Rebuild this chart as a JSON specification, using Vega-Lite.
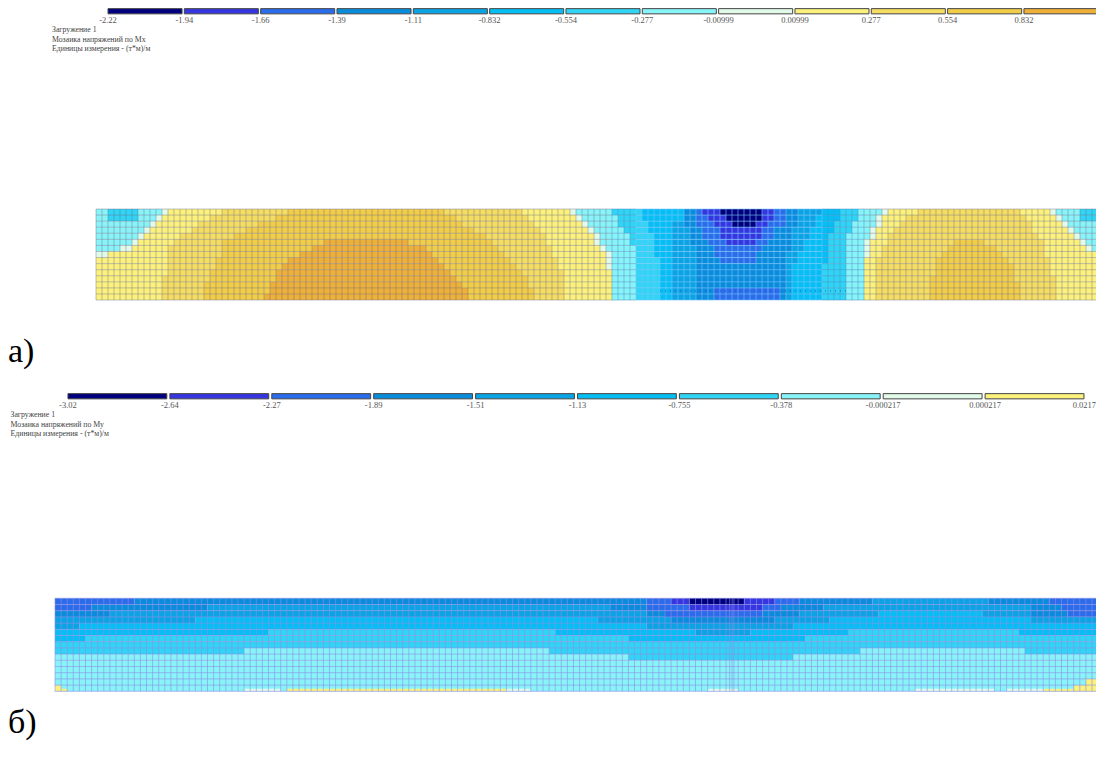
{"$schema":"https://vega.github.io/schema/vega-lite/v6.json","padding":0,"background":"white","spacing":0,"bounds":"flush","config":{"view":{"stroke":null},"axis":{"disable":true},"concat":{"spacing":0}},
"datasets":{
"cols":[0,1,2,3,4,5,6,7,8,9,10,11,12,13,14,15,16,17,18,19,20,21,22,23,24,25,26,27,28,29,30,31,32,33,34,35,36,37,38,39,40,41,42,43,44,45,46,47,48,49,50,51,52,53,54,55,56,57,58,59,60,61,62,63,64,65,66,67,68,69,70,71,72,73,74,75,76,77,78,79,80,81,82,83,84,85,86,87,88,89,90,91,92,93,94,95,96,97,98,99,100,101,102,103,104,105,106,107,108,109,110,111,112,113,114,115,116,117,118,119,120,121,122,123,124,125,126,127,128,129,130,131,132,133,134,135,136,137,138,139,140,141,142,143,144,145,146,147,148,149,150,151,152,153,154,155,156,157,158,159,160,161,162,163,164,165,166,167,168,169,170,171],
"rows":[0,1,2,3,4,5,6,7,8,9,10,11,12,13,14,15],
"heatA":[
{"r":0,"s":1,"c":0,"e":2,"k":7},{"r":0,"s":1,"c":2,"e":7,"k":6},{"r":0,"s":1,"c":7,"e":11,"k":7},{"r":0,"s":1,"c":11,"e":12,"k":8},{"r":0,"s":1,"c":12,"e":21,"k":9},{"r":0,"s":1,"c":21,"e":32,"k":10},{"r":0,"s":1,"c":32,"e":58,"k":11},{"r":0,"s":1,"c":58,"e":71,"k":10},{"r":0,"s":1,"c":71,"e":79,"k":9},{"r":0,"s":1,"c":79,"e":80,"k":8},{"r":0,"s":1,"c":80,"e":86,"k":7},{"r":0,"s":1,"c":86,"e":91,"k":6},{"r":0,"s":1,"c":91,"e":98,"k":5},{"r":0,"s":1,"c":98,"e":100,"k":3},{"r":0,"s":1,"c":100,"e":101,"k":2},{"r":0,"s":1,"c":101,"e":104,"k":1},{"r":0,"s":1,"c":104,"e":111,"k":0},{"r":0,"s":1,"c":111,"e":113,"k":1},{"r":0,"s":1,"c":113,"e":115,"k":2},{"r":0,"s":1,"c":115,"e":117,"k":3},{"r":0,"s":1,"c":117,"e":121,"k":4},{"r":0,"s":1,"c":121,"e":124,"k":5},{"r":0,"s":1,"c":124,"e":127,"k":6},{"r":0,"s":1,"c":127,"e":131,"k":7},{"r":0,"s":1,"c":131,"e":132,"k":8},{"r":0,"s":1,"c":132,"e":137,"k":9},{"r":0,"s":1,"c":137,"e":154,"k":10},{"r":0,"s":1,"c":154,"e":159,"k":9},{"r":0,"s":1,"c":159,"e":160,"k":8},{"r":0,"s":1,"c":160,"e":164,"k":7},{"r":0,"s":1,"c":164,"e":167,"k":6},
{"r":1,"s":2,"c":0,"e":2,"k":7},{"r":1,"s":2,"c":2,"e":7,"k":6},{"r":1,"s":2,"c":7,"e":10,"k":7},{"r":1,"s":2,"c":10,"e":11,"k":8},{"r":1,"s":2,"c":11,"e":19,"k":9},{"r":1,"s":2,"c":19,"e":30,"k":10},{"r":1,"s":2,"c":30,"e":60,"k":11},{"r":1,"s":2,"c":60,"e":72,"k":10},{"r":1,"s":2,"c":72,"e":80,"k":9},{"r":1,"s":2,"c":80,"e":81,"k":8},{"r":1,"s":2,"c":81,"e":87,"k":7},{"r":1,"s":2,"c":87,"e":91,"k":6},{"r":1,"s":2,"c":91,"e":98,"k":5},{"r":1,"s":2,"c":98,"e":100,"k":3},{"r":1,"s":2,"c":100,"e":102,"k":2},{"r":1,"s":2,"c":102,"e":105,"k":1},{"r":1,"s":2,"c":105,"e":111,"k":0},{"r":1,"s":2,"c":111,"e":113,"k":1},{"r":1,"s":2,"c":113,"e":115,"k":2},{"r":1,"s":2,"c":115,"e":117,"k":3},{"r":1,"s":2,"c":117,"e":120,"k":4},{"r":1,"s":2,"c":120,"e":124,"k":5},{"r":1,"s":2,"c":124,"e":127,"k":6},{"r":1,"s":2,"c":127,"e":130,"k":7},{"r":1,"s":2,"c":130,"e":131,"k":8},{"r":1,"s":2,"c":131,"e":135,"k":9},{"r":1,"s":2,"c":135,"e":155,"k":10},{"r":1,"s":2,"c":155,"e":160,"k":9},{"r":1,"s":2,"c":160,"e":161,"k":8},{"r":1,"s":2,"c":161,"e":164,"k":7},{"r":1,"s":2,"c":164,"e":167,"k":6},
{"r":2,"s":3,"c":0,"e":9,"k":7},{"r":2,"s":3,"c":9,"e":10,"k":8},{"r":2,"s":3,"c":10,"e":17,"k":9},{"r":2,"s":3,"c":17,"e":27,"k":10},{"r":2,"s":3,"c":27,"e":61,"k":11},{"r":2,"s":3,"c":61,"e":73,"k":10},{"r":2,"s":3,"c":73,"e":81,"k":9},{"r":2,"s":3,"c":81,"e":82,"k":8},{"r":2,"s":3,"c":82,"e":87,"k":7},{"r":2,"s":3,"c":87,"e":92,"k":6},{"r":2,"s":3,"c":92,"e":96,"k":5},{"r":2,"s":3,"c":96,"e":98,"k":4},{"r":2,"s":3,"c":98,"e":100,"k":3},{"r":2,"s":3,"c":100,"e":103,"k":2},{"r":2,"s":3,"c":103,"e":106,"k":1},{"r":2,"s":3,"c":106,"e":110,"k":0},{"r":2,"s":3,"c":110,"e":112,"k":1},{"r":2,"s":3,"c":112,"e":115,"k":2},{"r":2,"s":3,"c":115,"e":117,"k":3},{"r":2,"s":3,"c":117,"e":120,"k":4},{"r":2,"s":3,"c":120,"e":123,"k":5},{"r":2,"s":3,"c":123,"e":126,"k":6},{"r":2,"s":3,"c":126,"e":130,"k":7},{"r":2,"s":3,"c":130,"e":131,"k":8},{"r":2,"s":3,"c":131,"e":134,"k":9},{"r":2,"s":3,"c":134,"e":156,"k":10},{"r":2,"s":3,"c":156,"e":161,"k":9},{"r":2,"s":3,"c":161,"e":162,"k":8},{"r":2,"s":3,"c":162,"e":167,"k":7},
{"r":3,"s":4,"c":0,"e":8,"k":7},{"r":3,"s":4,"c":8,"e":9,"k":8},{"r":3,"s":4,"c":9,"e":16,"k":9},{"r":3,"s":4,"c":16,"e":25,"k":10},{"r":3,"s":4,"c":25,"e":63,"k":11},{"r":3,"s":4,"c":63,"e":74,"k":10},{"r":3,"s":4,"c":74,"e":82,"k":9},{"r":3,"s":4,"c":82,"e":83,"k":8},{"r":3,"s":4,"c":83,"e":88,"k":7},{"r":3,"s":4,"c":88,"e":92,"k":6},{"r":3,"s":4,"c":92,"e":96,"k":5},{"r":3,"s":4,"c":96,"e":99,"k":4},{"r":3,"s":4,"c":99,"e":101,"k":3},{"r":3,"s":4,"c":101,"e":104,"k":2},{"r":3,"s":4,"c":104,"e":111,"k":1},{"r":3,"s":4,"c":111,"e":113,"k":2},{"r":3,"s":4,"c":113,"e":116,"k":3},{"r":3,"s":4,"c":116,"e":119,"k":4},{"r":3,"s":4,"c":119,"e":123,"k":5},{"r":3,"s":4,"c":123,"e":126,"k":6},{"r":3,"s":4,"c":126,"e":129,"k":7},{"r":3,"s":4,"c":129,"e":130,"k":8},{"r":3,"s":4,"c":130,"e":133,"k":9},{"r":3,"s":4,"c":133,"e":156,"k":10},{"r":3,"s":4,"c":156,"e":162,"k":9},{"r":3,"s":4,"c":162,"e":163,"k":8},{"r":3,"s":4,"c":163,"e":167,"k":7},
{"r":4,"s":5,"c":0,"e":7,"k":7},{"r":4,"s":5,"c":7,"e":8,"k":8},{"r":4,"s":5,"c":8,"e":14,"k":9},{"r":4,"s":5,"c":14,"e":23,"k":10},{"r":4,"s":5,"c":23,"e":65,"k":11},{"r":4,"s":5,"c":65,"e":75,"k":10},{"r":4,"s":5,"c":75,"e":83,"k":9},{"r":4,"s":5,"c":83,"e":84,"k":8},{"r":4,"s":5,"c":84,"e":89,"k":7},{"r":4,"s":5,"c":89,"e":93,"k":6},{"r":4,"s":5,"c":93,"e":96,"k":5},{"r":4,"s":5,"c":96,"e":99,"k":4},{"r":4,"s":5,"c":99,"e":101,"k":3},{"r":4,"s":5,"c":101,"e":104,"k":2},{"r":4,"s":5,"c":104,"e":111,"k":1},{"r":4,"s":5,"c":111,"e":113,"k":2},{"r":4,"s":5,"c":113,"e":116,"k":3},{"r":4,"s":5,"c":116,"e":119,"k":4},{"r":4,"s":5,"c":119,"e":122,"k":5},{"r":4,"s":5,"c":122,"e":125,"k":6},{"r":4,"s":5,"c":125,"e":129,"k":7},{"r":4,"s":5,"c":129,"e":130,"k":8},{"r":4,"s":5,"c":130,"e":132,"k":9},{"r":4,"s":5,"c":132,"e":157,"k":10},{"r":4,"s":5,"c":157,"e":163,"k":9},{"r":4,"s":5,"c":163,"e":164,"k":8},{"r":4,"s":5,"c":164,"e":167,"k":7},
{"r":5,"s":6,"c":0,"e":6,"k":7},{"r":5,"s":6,"c":6,"e":7,"k":8},{"r":5,"s":6,"c":7,"e":13,"k":9},{"r":5,"s":6,"c":13,"e":21,"k":10},{"r":5,"s":6,"c":21,"e":38,"k":11},{"r":5,"s":6,"c":38,"e":52,"k":12},{"r":5,"s":6,"c":52,"e":66,"k":11},{"r":5,"s":6,"c":66,"e":75,"k":10},{"r":5,"s":6,"c":75,"e":83,"k":9},{"r":5,"s":6,"c":83,"e":84,"k":8},{"r":5,"s":6,"c":84,"e":89,"k":7},{"r":5,"s":6,"c":89,"e":93,"k":6},{"r":5,"s":6,"c":93,"e":96,"k":5},{"r":5,"s":6,"c":96,"e":99,"k":4},{"r":5,"s":6,"c":99,"e":102,"k":3},{"r":5,"s":6,"c":102,"e":105,"k":2},{"r":5,"s":6,"c":105,"e":110,"k":1},{"r":5,"s":6,"c":110,"e":112,"k":2},{"r":5,"s":6,"c":112,"e":116,"k":3},{"r":5,"s":6,"c":116,"e":118,"k":4},{"r":5,"s":6,"c":118,"e":122,"k":5},{"r":5,"s":6,"c":122,"e":125,"k":6},{"r":5,"s":6,"c":125,"e":128,"k":7},{"r":5,"s":6,"c":128,"e":129,"k":8},{"r":5,"s":6,"c":129,"e":132,"k":9},{"r":5,"s":6,"c":132,"e":143,"k":10},{"r":5,"s":6,"c":143,"e":148,"k":11},{"r":5,"s":6,"c":148,"e":158,"k":10},{"r":5,"s":6,"c":158,"e":164,"k":9},{"r":5,"s":6,"c":164,"e":165,"k":8},{"r":5,"s":6,"c":165,"e":167,"k":7},
{"r":6,"s":7,"c":0,"e":4,"k":7},{"r":6,"s":7,"c":4,"e":6,"k":8},{"r":6,"s":7,"c":6,"e":12,"k":9},{"r":6,"s":7,"c":12,"e":21,"k":10},{"r":6,"s":7,"c":21,"e":36,"k":11},{"r":6,"s":7,"c":36,"e":55,"k":12},{"r":6,"s":7,"c":55,"e":67,"k":11},{"r":6,"s":7,"c":67,"e":76,"k":10},{"r":6,"s":7,"c":76,"e":84,"k":9},{"r":6,"s":7,"c":84,"e":85,"k":8},{"r":6,"s":7,"c":85,"e":90,"k":7},{"r":6,"s":7,"c":90,"e":93,"k":6},{"r":6,"s":7,"c":93,"e":96,"k":5},{"r":6,"s":7,"c":96,"e":100,"k":4},{"r":6,"s":7,"c":100,"e":103,"k":3},{"r":6,"s":7,"c":103,"e":111,"k":2},{"r":6,"s":7,"c":111,"e":116,"k":3},{"r":6,"s":7,"c":116,"e":118,"k":4},{"r":6,"s":7,"c":118,"e":122,"k":5},{"r":6,"s":7,"c":122,"e":125,"k":6},{"r":6,"s":7,"c":125,"e":128,"k":7},{"r":6,"s":7,"c":128,"e":129,"k":8},{"r":6,"s":7,"c":129,"e":131,"k":9},{"r":6,"s":7,"c":131,"e":142,"k":10},{"r":6,"s":7,"c":142,"e":150,"k":11},{"r":6,"s":7,"c":150,"e":158,"k":10},{"r":6,"s":7,"c":158,"e":165,"k":9},{"r":6,"s":7,"c":165,"e":166,"k":8},{"r":6,"s":7,"c":166,"e":167,"k":7},
{"r":7,"s":8,"c":0,"e":2,"k":8},{"r":7,"s":8,"c":2,"e":12,"k":9},{"r":7,"s":8,"c":12,"e":21,"k":10},{"r":7,"s":8,"c":21,"e":34,"k":11},{"r":7,"s":8,"c":34,"e":56,"k":12},{"r":7,"s":8,"c":56,"e":68,"k":11},{"r":7,"s":8,"c":68,"e":76,"k":10},{"r":7,"s":8,"c":76,"e":85,"k":9},{"r":7,"s":8,"c":85,"e":86,"k":8},{"r":7,"s":8,"c":86,"e":90,"k":7},{"r":7,"s":8,"c":90,"e":93,"k":6},{"r":7,"s":8,"c":93,"e":96,"k":5},{"r":7,"s":8,"c":96,"e":100,"k":4},{"r":7,"s":8,"c":100,"e":103,"k":3},{"r":7,"s":8,"c":103,"e":110,"k":2},{"r":7,"s":8,"c":110,"e":115,"k":3},{"r":7,"s":8,"c":115,"e":117,"k":4},{"r":7,"s":8,"c":117,"e":122,"k":5},{"r":7,"s":8,"c":122,"e":125,"k":6},{"r":7,"s":8,"c":125,"e":128,"k":7},{"r":7,"s":8,"c":128,"e":129,"k":8},{"r":7,"s":8,"c":129,"e":131,"k":9},{"r":7,"s":8,"c":131,"e":141,"k":10},{"r":7,"s":8,"c":141,"e":151,"k":11},{"r":7,"s":8,"c":151,"e":158,"k":10},{"r":7,"s":8,"c":158,"e":167,"k":9},
{"r":8,"s":9,"c":0,"e":12,"k":9},{"r":8,"s":9,"c":12,"e":20,"k":10},{"r":8,"s":9,"c":20,"e":32,"k":11},{"r":8,"s":9,"c":32,"e":57,"k":12},{"r":8,"s":9,"c":57,"e":69,"k":11},{"r":8,"s":9,"c":69,"e":77,"k":10},{"r":8,"s":9,"c":77,"e":85,"k":9},{"r":8,"s":9,"c":85,"e":86,"k":8},{"r":8,"s":9,"c":86,"e":90,"k":7},{"r":8,"s":9,"c":90,"e":94,"k":6},{"r":8,"s":9,"c":94,"e":96,"k":5},{"r":8,"s":9,"c":96,"e":100,"k":4},{"r":8,"s":9,"c":100,"e":104,"k":3},{"r":8,"s":9,"c":104,"e":110,"k":2},{"r":8,"s":9,"c":110,"e":115,"k":3},{"r":8,"s":9,"c":115,"e":117,"k":4},{"r":8,"s":9,"c":117,"e":122,"k":5},{"r":8,"s":9,"c":122,"e":125,"k":6},{"r":8,"s":9,"c":125,"e":128,"k":7},{"r":8,"s":9,"c":128,"e":130,"k":9},{"r":8,"s":9,"c":130,"e":140,"k":10},{"r":8,"s":9,"c":140,"e":152,"k":11},{"r":8,"s":9,"c":152,"e":159,"k":10},{"r":8,"s":9,"c":159,"e":167,"k":9},
{"r":9,"s":10,"c":0,"e":12,"k":9},{"r":9,"s":10,"c":12,"e":20,"k":10},{"r":9,"s":10,"c":20,"e":31,"k":11},{"r":9,"s":10,"c":31,"e":58,"k":12},{"r":9,"s":10,"c":58,"e":70,"k":11},{"r":9,"s":10,"c":70,"e":77,"k":10},{"r":9,"s":10,"c":77,"e":85,"k":9},{"r":9,"s":10,"c":85,"e":86,"k":8},{"r":9,"s":10,"c":86,"e":90,"k":7},
{"r":10,"s":11,"c":0,"e":12,"k":9},{"r":10,"s":11,"c":12,"e":19,"k":10},{"r":10,"s":11,"c":19,"e":30,"k":11},{"r":10,"s":11,"c":30,"e":59,"k":12},{"r":10,"s":11,"c":59,"e":71,"k":11},{"r":10,"s":11,"c":71,"e":78,"k":10},{"r":10,"s":11,"c":78,"e":86,"k":9},{"r":10,"s":11,"c":86,"e":90,"k":7},
{"r":11,"s":12,"c":0,"e":11,"k":9},{"r":11,"s":12,"c":11,"e":19,"k":10},{"r":11,"s":12,"c":19,"e":30,"k":11},{"r":11,"s":12,"c":30,"e":60,"k":12},{"r":11,"s":12,"c":60,"e":72,"k":11},{"r":11,"s":12,"c":72,"e":78,"k":10},{"r":11,"s":12,"c":78,"e":86,"k":9},{"r":11,"s":12,"c":86,"e":90,"k":7},
{"r":12,"s":13,"c":0,"e":11,"k":9},{"r":12,"s":13,"c":11,"e":18,"k":10},{"r":12,"s":13,"c":18,"e":29,"k":11},{"r":12,"s":13,"c":29,"e":61,"k":12},{"r":12,"s":13,"c":61,"e":72,"k":11},{"r":12,"s":13,"c":72,"e":78,"k":10},{"r":12,"s":13,"c":78,"e":86,"k":9},{"r":12,"s":13,"c":86,"e":90,"k":7},
{"r":13,"s":14,"c":0,"e":11,"k":9},{"r":13,"s":14,"c":11,"e":18,"k":10},{"r":13,"s":14,"c":18,"e":29,"k":11},{"r":13,"s":14,"c":29,"e":62,"k":12},{"r":13,"s":14,"c":62,"e":73,"k":11},{"r":13,"s":14,"c":73,"e":78,"k":10},{"r":13,"s":14,"c":78,"e":86,"k":9},{"r":13,"s":14,"c":86,"e":90,"k":7},
{"r":14,"s":15,"c":0,"e":11,"k":9},{"r":14,"s":15,"c":11,"e":18,"k":10},{"r":14,"s":15,"c":18,"e":28,"k":11},{"r":14,"s":15,"c":28,"e":62,"k":12},{"r":14,"s":15,"c":62,"e":73,"k":11},{"r":14,"s":15,"c":73,"e":78,"k":10},{"r":14,"s":15,"c":78,"e":86,"k":9},{"r":14,"s":15,"c":86,"e":90,"k":7},
{"r":9,"s":13,"c":90,"e":94,"k":6},{"r":9,"s":13,"c":94,"e":96,"k":5},{"r":9,"s":13,"c":96,"e":100,"k":4},{"r":9,"s":13,"c":100,"e":115,"k":3},{"r":9,"s":13,"c":115,"e":116,"k":4},{"r":9,"s":13,"c":116,"e":121,"k":5},{"r":9,"s":13,"c":121,"e":125,"k":6},{"r":9,"s":13,"c":125,"e":128,"k":7},
{"r":13,"s":15,"c":90,"e":94,"k":6},{"r":13,"s":15,"c":94,"e":96,"k":5},{"r":13,"s":15,"c":96,"e":100,"k":4},{"r":13,"s":15,"c":100,"e":103,"k":3},{"r":13,"s":15,"c":103,"e":114,"k":2},{"r":13,"s":15,"c":114,"e":115,"k":3},{"r":13,"s":15,"c":115,"e":116,"k":4},{"r":13,"s":15,"c":116,"e":121,"k":5},{"r":13,"s":15,"c":121,"e":125,"k":6},{"r":13,"s":15,"c":125,"e":128,"k":7},
{"r":9,"s":11,"c":128,"e":130,"k":9},{"r":9,"s":11,"c":130,"e":140,"k":10},{"r":9,"s":11,"c":140,"e":153,"k":11},{"r":9,"s":11,"c":153,"e":159,"k":10},{"r":9,"s":11,"c":159,"e":167,"k":9},
{"r":11,"s":12,"c":128,"e":130,"k":9},{"r":11,"s":12,"c":130,"e":139,"k":10},{"r":11,"s":12,"c":139,"e":153,"k":11},{"r":11,"s":12,"c":153,"e":160,"k":10},{"r":11,"s":12,"c":160,"e":167,"k":9},
{"r":12,"s":15,"c":128,"e":130,"k":9},{"r":12,"s":15,"c":130,"e":139,"k":10},{"r":12,"s":15,"c":139,"e":154,"k":11},{"r":12,"s":15,"c":154,"e":160,"k":10},{"r":12,"s":15,"c":160,"e":167,"k":9}
],
"heatB":[
{"r":0,"s":1,"c":0,"e":13,"k":2},{"r":0,"s":1,"c":13,"e":97,"k":3},{"r":0,"s":1,"c":97,"e":101,"k":2},{"r":0,"s":1,"c":101,"e":104,"k":1},{"r":0,"s":1,"c":104,"e":113,"k":0},{"r":0,"s":1,"c":113,"e":118,"k":1},{"r":0,"s":1,"c":118,"e":122,"k":2},{"r":0,"s":1,"c":122,"e":134,"k":3},{"r":0,"s":1,"c":134,"e":153,"k":4},{"r":0,"s":1,"c":153,"e":163,"k":3},{"r":0,"s":1,"c":163,"e":171,"k":2},
{"r":1,"s":2,"c":0,"e":6,"k":2},{"r":1,"s":2,"c":6,"e":25,"k":3},{"r":1,"s":2,"c":25,"e":91,"k":4},{"r":1,"s":2,"c":91,"e":97,"k":3},{"r":1,"s":2,"c":97,"e":104,"k":2},{"r":1,"s":2,"c":104,"e":116,"k":1},{"r":1,"s":2,"c":116,"e":119,"k":2},{"r":1,"s":2,"c":119,"e":126,"k":3},{"r":1,"s":2,"c":126,"e":160,"k":4},{"r":1,"s":2,"c":160,"e":165,"k":3},{"r":1,"s":2,"c":165,"e":171,"k":2},
{"r":2,"s":3,"c":0,"e":9,"k":3},{"r":2,"s":3,"c":9,"e":97,"k":4},{"r":2,"s":3,"c":97,"e":100,"k":3},{"r":2,"s":3,"c":100,"e":116,"k":2},{"r":2,"s":3,"c":116,"e":122,"k":3},{"r":2,"s":3,"c":122,"e":135,"k":4},{"r":2,"s":3,"c":135,"e":152,"k":5},{"r":2,"s":3,"c":152,"e":160,"k":4},{"r":2,"s":3,"c":160,"e":166,"k":3},{"r":2,"s":3,"c":166,"e":171,"k":2},
{"r":3,"s":4,"c":0,"e":23,"k":4},{"r":3,"s":4,"c":23,"e":89,"k":5},{"r":3,"s":4,"c":89,"e":101,"k":4},{"r":3,"s":4,"c":101,"e":118,"k":3},{"r":3,"s":4,"c":118,"e":127,"k":4},{"r":3,"s":4,"c":127,"e":160,"k":5},{"r":3,"s":4,"c":160,"e":171,"k":4},
{"r":4,"s":5,"c":0,"e":4,"k":4},{"r":4,"s":5,"c":4,"e":97,"k":5},{"r":4,"s":5,"c":97,"e":121,"k":4},{"r":4,"s":5,"c":121,"e":171,"k":5},
{"r":5,"s":6,"c":0,"e":35,"k":5},{"r":5,"s":6,"c":35,"e":82,"k":6},{"r":5,"s":6,"c":82,"e":105,"k":5},{"r":5,"s":6,"c":105,"e":114,"k":4},{"r":5,"s":6,"c":114,"e":130,"k":5},{"r":5,"s":6,"c":130,"e":158,"k":6},{"r":5,"s":6,"c":158,"e":171,"k":5},
{"r":6,"s":7,"c":0,"e":5,"k":5},{"r":6,"s":7,"c":5,"e":94,"k":6},{"r":6,"s":7,"c":94,"e":123,"k":5},{"r":6,"s":7,"c":123,"e":171,"k":6},
{"r":7,"s":8,"c":0,"e":171,"k":6},
{"r":8,"s":9,"c":0,"e":31,"k":6},{"r":8,"s":9,"c":31,"e":81,"k":7},{"r":8,"s":9,"c":81,"e":132,"k":6},{"r":8,"s":9,"c":132,"e":159,"k":7},{"r":8,"s":9,"c":159,"e":171,"k":6},
{"r":9,"s":10,"c":0,"e":94,"k":7},{"r":9,"s":10,"c":94,"e":121,"k":6},{"r":9,"s":10,"c":121,"e":171,"k":7},
{"r":10,"s":15,"c":0,"e":171,"k":7},
{"r":14.6,"s":15,"c":31,"e":37,"k":8},{"r":14.6,"s":15,"c":38,"e":74,"k":9},{"r":14.6,"s":15,"c":74,"e":78,"k":8},{"r":14.6,"s":15,"c":107,"e":112,"k":8},{"r":14.6,"s":15,"c":141,"e":154,"k":8},{"r":14.6,"s":15,"c":156,"e":162,"k":8},{"r":14.6,"s":15,"c":162,"e":167,"k":9},{"r":14,"s":15,"c":167,"e":171,"k":9},{"r":13,"s":14,"c":169,"e":171,"k":9},{"r":14,"s":15,"c":0,"e":1,"k":9},{"r":14.6,"s":15,"c":1,"e":2,"k":9}
],
"legendA":[{"i":0,"j":0.97,"k":0,"label":"-2.22"},{"i":1,"j":1.97,"k":1,"label":"-1.94"},{"i":2,"j":2.97,"k":2,"label":"-1.66"},{"i":3,"j":3.97,"k":3,"label":"-1.39"},{"i":4,"j":4.97,"k":4,"label":"-1.11"},{"i":5,"j":5.97,"k":5,"label":"-0.832"},{"i":6,"j":6.97,"k":6,"label":"-0.554"},{"i":7,"j":7.97,"k":7,"label":"-0.277"},{"i":8,"j":8.97,"k":8,"label":"-0.00999"},{"i":9,"j":9.97,"k":9,"label":"0.00999"},{"i":10,"j":10.97,"k":10,"label":"0.277"},{"i":11,"j":11.97,"k":11,"label":"0.554"},{"i":12,"j":12.97,"k":12,"label":"0.832"}],
"legendB":[{"i":0,"j":0.97,"k":0,"label":"-3.02"},{"i":1,"j":1.97,"k":1,"label":"-2.64"},{"i":2,"j":2.97,"k":2,"label":"-2.27"},{"i":3,"j":3.97,"k":3,"label":"-1.89"},{"i":4,"j":4.97,"k":4,"label":"-1.51"},{"i":5,"j":5.97,"k":5,"label":"-1.13"},{"i":6,"j":6.97,"k":6,"label":"-0.755"},{"i":7,"j":7.97,"k":7,"label":"-0.378"},{"i":8,"j":8.97,"k":8,"label":"-0.000217"},{"i":9,"j":9.97,"k":9,"label":"0.000217"}],
"lastB":[{"i":10,"label":"0.0217"}]
},
"vconcat":[
{"width":1096,"height":200,"layer":[
{"data":{"name":"legendA"},"mark":{"type":"rect","stroke":"#444","strokeWidth":1,"clip":true,"opacity":1},"encoding":{"x":{"field":"i","type":"quantitative","scale":{"domain":[-1.415,12.944],"nice":false}},"x2":{"field":"j"},"y":{"datum":-0.25,"type":"quantitative","scale":{"domain":[-1.158,19.895],"reverse":true,"nice":false}},"y2":{"datum":0.3},"color":{"field":"k","type":"ordinal","legend":null,"scale":{"domain":[0,1,2,3,4,5,6,7,8,9,10,11,12],"range":["#00007e","#3636e0","#2a6cea","#0a8cdc","#0aa4e4","#04bef4","#30d4f4","#88f4f8","#e2fae8","#fbf17c","#f5dd62","#f1cd48","#eeb038"]}}}},
{"data":{"name":"legendA"},"mark":{"type":"text","font":"Liberation Serif","fontSize":8.5,"fill":"#555","baseline":"middle","align":"center","clip":true},"encoding":{"x":{"field":"i","type":"quantitative"},"y":{"datum":0.9,"type":"quantitative"},"text":{"field":"label"}}},
{"data":{"values":[{"i":-0.734,"line":2,"text":"Загружение 1"},{"i":-0.734,"line":3,"text":"Мозаика напряжений по Мх"},{"i":-0.734,"line":4,"text":"Единицы измерения - (т*м)/м"}]},"mark":{"type":"text","font":"Liberation Serif","fontSize":7.8,"fill":"#444","align":"left","baseline":"middle"},"encoding":{"x":{"field":"i","type":"quantitative"},"y":{"field":"line","type":"quantitative"},"text":{"field":"text"}}}
]},
{"width":1096,"height":185,"layer":[
{"data":{"name":"heatA"},"mark":{"type":"rect","clip":true,"opacity":1},"encoding":{"x":{"field":"c","type":"quantitative","scale":{"domain":[-16,166.667],"nice":false}},"x2":{"field":"e"},"y":{"field":"r","type":"quantitative","scale":{"domain":[-1.483,29.0],"reverse":true,"nice":false}},"y2":{"field":"s"},"color":{"field":"k","type":"ordinal","legend":null,"scale":{"domain":[0,1,2,3,4,5,6,7,8,9,10,11,12],"range":["#00008c","#3838f0","#3366f5","#1a80f5","#0f9cff","#0cbcff","#48d0ff","#84eeff","#e6fae6","#fbf27a","#f8de5a","#f6cb46","#f2b53a"]}}}},
{"data":{"name":"cols"},"transform":[{"filter":"datum.data<86||datum.data>128"}],"mark":{"type":"rule","stroke":"#6d6d8c","strokeWidth":1,"opacity":0.42,"clip":true},"encoding":{"x":{"field":"data","type":"quantitative"},"y":{"datum":0,"type":"quantitative"},"y2":{"datum":15}}},
{"data":{"name":"cols"},"transform":[{"filter":"(datum.data>=86&&datum.data<90)||(datum.data>121&&datum.data<=128)"}],"mark":{"type":"rule","stroke":"#4f90c8","strokeWidth":1,"opacity":0.5,"clip":true},"encoding":{"x":{"field":"data","type":"quantitative"},"y":{"datum":0,"type":"quantitative"},"y2":{"datum":15}}},
{"data":{"name":"cols"},"transform":[{"filter":"datum.data>=90&&datum.data<=121"}],"mark":{"type":"rule","stroke":"#7cc4fa","strokeWidth":1,"opacity":0.6,"clip":true},"encoding":{"x":{"field":"data","type":"quantitative"},"y":{"datum":0,"type":"quantitative"},"y2":{"datum":15}}},
{"data":{"name":"rows"},"mark":{"type":"rule","stroke":"#6d6d8c","strokeWidth":1,"opacity":0.42,"clip":true},"encoding":{"y":{"field":"data","type":"quantitative"},"x":{"datum":0,"type":"quantitative"},"x2":{"datum":86}}},
{"data":{"name":"rows"},"mark":{"type":"rule","stroke":"#4f90c8","strokeWidth":1,"opacity":0.5,"clip":true},"encoding":{"y":{"field":"data","type":"quantitative"},"x":{"datum":86,"type":"quantitative"},"x2":{"datum":90}}},
{"data":{"name":"rows"},"mark":{"type":"rule","stroke":"#7cc4fa","strokeWidth":1,"opacity":0.6,"clip":true},"encoding":{"y":{"field":"data","type":"quantitative"},"x":{"datum":90,"type":"quantitative"},"x2":{"datum":121}}},
{"data":{"name":"rows"},"mark":{"type":"rule","stroke":"#4f90c8","strokeWidth":1,"opacity":0.5,"clip":true},"encoding":{"y":{"field":"data","type":"quantitative"},"x":{"datum":121,"type":"quantitative"},"x2":{"datum":128}}},
{"data":{"name":"rows"},"mark":{"type":"rule","stroke":"#6d6d8c","strokeWidth":1,"opacity":0.42,"clip":true},"encoding":{"y":{"field":"data","type":"quantitative"},"x":{"datum":128,"type":"quantitative"},"x2":{"datum":167}}},
{"data":{"values":[{"c":94,"e":125,"r":13.5}]},"mark":{"type":"rule","stroke":"#1f4fa8","strokeWidth":1,"strokeDash":[1,4],"opacity":0.8},"encoding":{"x":{"field":"c","type":"quantitative"},"x2":{"field":"e"},"y":{"field":"r","type":"quantitative"}}},
{"data":{"values":[{"c":-14.67,"r":25.2,"t":"а)"}]},"mark":{"type":"text","font":"Liberation Serif","fontSize":34,"fill":"#000","align":"left","baseline":"alphabetic"},"encoding":{"x":{"field":"c","type":"quantitative"},"y":{"field":"r","type":"quantitative"},"text":{"field":"t"}}}
]},
{"width":1096,"height":205,"layer":[
{"data":{"name":"legendB"},"mark":{"type":"rect","stroke":"#444","strokeWidth":1,"opacity":1},"encoding":{"x":{"field":"i","type":"quantitative","scale":{"domain":[-0.667,10.088],"nice":false}},"x2":{"field":"j"},"y":{"datum":-0.25,"type":"quantitative","scale":{"domain":[-1.158,20.42],"reverse":true,"nice":false}},"y2":{"datum":0.3},"color":{"field":"k","type":"ordinal","legend":null,"scale":{"domain":[0,1,2,3,4,5,6,7,8,9],"range":["#00007e","#2e2ef0","#2470f0","#0092dc","#04aaec","#00c4f8","#38dcf8","#88f6fa","#e6fae6","#fff078"]}}}},
{"data":{"name":"legendB"},"mark":{"type":"text","font":"Liberation Serif","fontSize":8.5,"fill":"#555","baseline":"middle","align":"center","clip":true},"encoding":{"x":{"field":"i","type":"quantitative"},"y":{"datum":0.9,"type":"quantitative"},"text":{"field":"label"}}},
{"data":{"name":"lastB"},"mark":{"type":"text","font":"Liberation Serif","fontSize":8.5,"fill":"#555","baseline":"middle","align":"right","dx":9,"clip":true},"encoding":{"x":{"field":"i","type":"quantitative"},"y":{"datum":0.9,"type":"quantitative"},"text":{"field":"label"}}},
{"data":{"values":[{"i":-0.564,"line":2,"text":"Загружение 1"},{"i":-0.564,"line":3,"text":"Мозаика напряжений по Му"},{"i":-0.564,"line":4,"text":"Единицы измерения - (т*м)/м"}]},"mark":{"type":"text","font":"Liberation Serif","fontSize":7.8,"fill":"#444","align":"left","baseline":"middle"},"encoding":{"x":{"field":"i","type":"quantitative"},"y":{"field":"line","type":"quantitative"},"text":{"field":"text"}}}
]},
{"width":1096,"height":170,"layer":[
{"data":{"name":"heatB"},"mark":{"type":"rect","clip":true,"opacity":1},"encoding":{"x":{"field":"c","type":"quantitative","scale":{"domain":[-9.016,170.656],"nice":false}},"x2":{"field":"e"},"y":{"field":"r","type":"quantitative","scale":{"domain":[-1.339,26.08],"reverse":true,"nice":false}},"y2":{"field":"s"},"order":{"field":"r"},"color":{"field":"k","type":"ordinal","legend":null,"scale":{"domain":[0,1,2,3,4,5,6,7,8,9],"range":["#00008c","#3636f0","#2a78ff","#0a8cf0","#08a8f8","#00bcff","#40d4ff","#88f0ff","#f0f8ee","#fcf078"]}}}},
{"data":{"name":"cols"},"mark":{"type":"rule","stroke":"#8f8fe8","strokeWidth":1,"opacity":0.6,"clip":true},"encoding":{"x":{"field":"data","type":"quantitative"},"y":{"datum":0,"type":"quantitative"},"y2":{"datum":15}}},
{"data":{"name":"rows"},"mark":{"type":"rule","stroke":"#8f8fe8","strokeWidth":1,"opacity":0.6,"clip":true},"encoding":{"y":{"field":"data","type":"quantitative"},"x":{"datum":0,"type":"quantitative"},"x2":{"datum":171}}},
{"data":{"values":[{"c":110.6},{"c":111.3}]},"mark":{"type":"rule","stroke":"#8f8fe8","strokeWidth":1,"opacity":0.6},"encoding":{"x":{"field":"c","type":"quantitative"},"y":{"datum":0,"type":"quantitative"},"y2":{"datum":15}}},
{"data":{"values":[{"c":-7.7,"r":21.7,"t":"б)"}]},"mark":{"type":"text","font":"Liberation Serif","fontSize":34,"fill":"#000","align":"left","baseline":"alphabetic"},"encoding":{"x":{"field":"c","type":"quantitative"},"y":{"field":"r","type":"quantitative"},"text":{"field":"t"}}}
]}
]}
